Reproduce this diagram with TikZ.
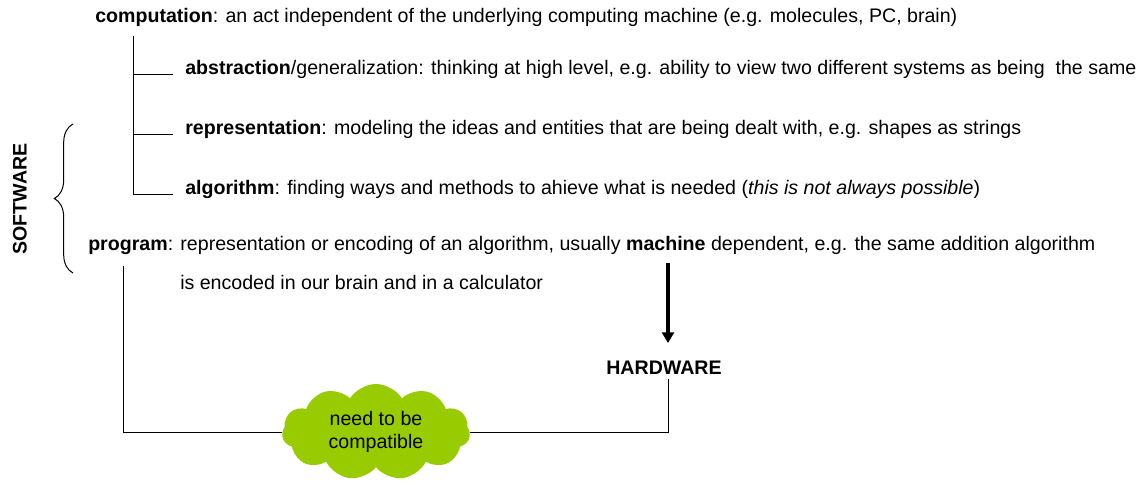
\documentclass[tikz,border=0pt]{standalone}
\usepackage{fontspec}
\setmainfont{Liberation Sans}
\usepackage{xcolor}
\usetikzlibrary{shapes.symbols,decorations.pathreplacing,arrows.meta}

\begin{document}
\begin{tikzpicture}[x=0.75pt,y=0.75pt,yscale=-1,xscale=1,
  font=\fontsize{14.7}{17}\selectfont,
  txt/.style={anchor=base west,inner sep=0pt},
  wire/.style={line width=0.75}]
%set diagram left start at 0, and has size of the reference
\path[use as bounding box] (0,0) rectangle (1148,482);

% Text Node
\draw (95,22) node [txt] (computation) {\textbf{computation}: an act independent of the underlying computing machine (e.g. molecules, PC, brain)};
% Text Node
\draw (185,74) node [txt] (abstraction) {\textbf{abstraction}/generalization: thinking at high level, e.g. ability to view two different systems as being\ \ the same};
% Text Node
\draw (185,134) node [txt] (representation) {\textbf{representation}: modeling the ideas and entities that are being dealt with, e.g. shapes as strings};
% Text Node
\draw (185,194) node [txt] (algorithm) {\textbf{algorithm}: finding ways and methods to ahieve what is needed (\textit{this is not always possible})};
% Text Node
\draw (88,250) node [txt] (program) {\textbf{program}: representation or encoding of an algorithm, usually \textbf{machine} dependent, e.g. the same addition algorithm};
% Text Node
\draw (180,289) node [txt] (encoded) {is encoded in our brain and in a calculator};
% Text Node
\draw (664,368) node (hardware) {\textbf{HARDWARE}};
% Text Node
\draw (20,199) node [rotate=90] (software) {\textbf{SOFTWARE}};
% Cloud
\draw (376,432) node [cloud, cloud puffs=11, cloud puff arc=115, aspect=1.9,
  fill={rgb,255:red,153;green,204;blue,0}, minimum width=141, minimum height=72,
  align=center, inner sep=0pt] (compatible) {need to be\\compatible};

\coordinate (treetop) at (133,36);
\coordinate (progfoot) at (123,266);
\coordinate (machine) at (668,263);

%Straight Lines
\draw [wire] (treetop) |- ([xshift=-9pt]algorithm.base west);
\draw [wire] (treetop |- abstraction.base) -- ([xshift=-9pt]abstraction.base west);
\draw [wire] (treetop |- representation.base) -- ([xshift=-9pt]representation.base west);
%Brace
\draw [wire, decorate, decoration={brace, amplitude=14}] (73,273) -- (73,124);
%Arrow
\draw [line width=3.2, -{Triangle[width=9, length=8]}] (machine) -- (machine |- 0,343);
%Compatibility lines
\draw [wire] (progfoot) |- (compatible);
\draw [wire] (compatible) -| ([xshift=3pt]hardware.south);

\end{tikzpicture}
\end{document}
